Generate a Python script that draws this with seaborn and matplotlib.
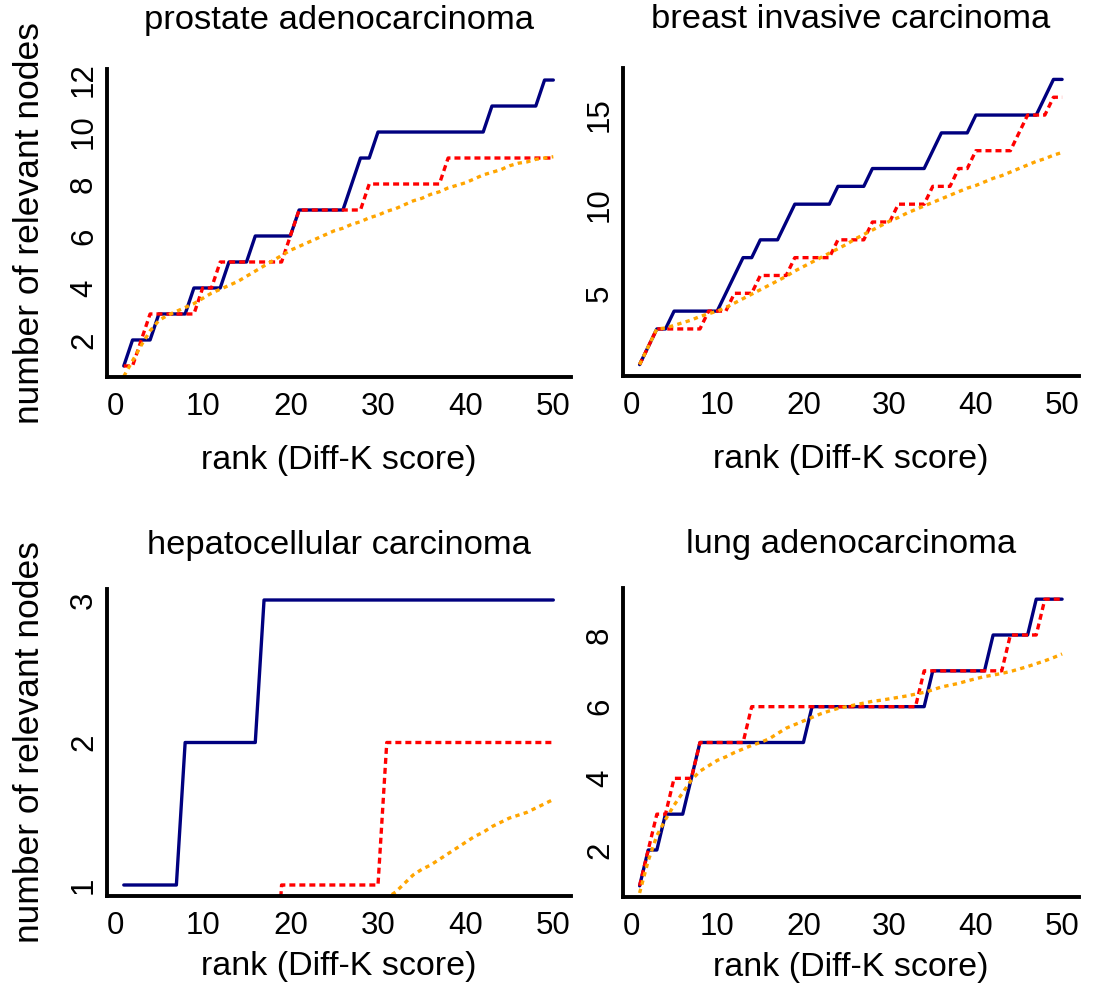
import matplotlib
matplotlib.use("Agg")
import matplotlib.pyplot as plt
import pandas as pd
import seaborn as sns

# ---------------- data ----------------
ranks = list(range(1, 51))

titles = ["prostate adenocarcinoma", "breast invasive carcinoma",
          "hepatocellular carcinoma", "lung adenocarcinoma"]

prostate_blue = [1, 2, 2, 2, 3, 3, 3, 3, 4, 4,
                 4, 4, 5, 5, 5, 6, 6, 6, 6, 6,
                 7, 7, 7, 7, 7, 7, 8, 9, 9, 10,
                 10, 10, 10, 10, 10, 10, 10, 10, 10, 10,
                 10, 10, 11, 11, 11, 11, 11, 11, 12, 12]
prostate_red = [1, 1, 2, 3, 3, 3, 3, 3, 3, 4,
                4, 5, 5, 5, 5, 5, 5, 5, 5, 6,
                7, 7, 7, 7, 7, 7, 7, 7, 8, 8,
                8, 8, 8, 8, 8, 8, 8, 9, 9, 9,
                9, 9, 9, 9, 9, 9, 9, 9, 9, 9]
prostate_orange = [0.6, 1.2, 1.8, 2.35, 2.75, 2.95, 3.1, 3.25, 3.4, 3.6,
                   3.8, 3.95, 4.1, 4.25, 4.45, 4.65, 4.85, 5.05, 5.25, 5.45,
                   5.6, 5.75, 5.9, 6.05, 6.2, 6.3, 6.45, 6.55, 6.7, 6.8,
                   6.95, 7.05, 7.2, 7.35, 7.45, 7.6, 7.7, 7.85, 7.95, 8.05,
                   8.2, 8.35, 8.45, 8.55, 8.7, 8.8, 8.85, 8.95, 9.0, 9.05]

breast_blue = [1, 2, 3, 3, 4, 4, 4, 4, 4, 4,
               5, 6, 7, 7, 8, 8, 8, 9, 10, 10,
               10, 10, 10, 11, 11, 11, 11, 12, 12, 12,
               12, 12, 12, 12, 13, 14, 14, 14, 14, 15,
               15, 15, 15, 15, 15, 15, 15, 16, 17, 17]
breast_red = [1, 2, 3, 3, 3, 3, 3, 3, 4, 4,
              4, 5, 5, 5, 6, 6, 6, 6, 7, 7,
              7, 7, 7, 8, 8, 8, 8, 9, 9, 9,
              10, 10, 10, 10, 11, 11, 11, 12, 12, 13,
              13, 13, 13, 13, 14, 15, 15, 15, 16, 16]
breast_orange = [1.0, 2.0, 3.0, 3.05, 3.2, 3.35, 3.5, 3.7, 3.85, 4.0,
                 4.2, 4.45, 4.7, 4.95, 5.2, 5.45, 5.7, 5.95, 6.25, 6.5,
                 6.75, 7.0, 7.25, 7.5, 7.75, 8.05, 8.3, 8.55, 8.8, 9.05,
                 9.25, 9.5, 9.7, 9.9, 10.1, 10.3, 10.5, 10.7, 10.9, 11.05,
                 11.25, 11.45, 11.6, 11.8, 12.0, 12.2, 12.4, 12.55, 12.75, 12.9]

hcc_blue = [1, 1, 1, 1, 1, 1, 1, 2, 2, 2,
            2, 2, 2, 2, 2, 2, 3, 3, 3, 3,
            3, 3, 3, 3, 3, 3, 3, 3, 3, 3,
            3, 3, 3, 3, 3, 3, 3, 3, 3, 3,
            3, 3, 3, 3, 3, 3, 3, 3, 3, 3]
hcc_red = [0, 0, 0, 0, 0, 0, 0, 0, 0, 0,
           0, 0, 0, 0, 0, 0, 0, 0, 1, 1,
           1, 1, 1, 1, 1, 1, 1, 1, 1, 1,
           2, 2, 2, 2, 2, 2, 2, 2, 2, 2,
           2, 2, 2, 2, 2, 2, 2, 2, 2, 2]
hcc_orange_ranks = [30, 31, 32, 33, 34, 35, 36, 37, 38, 39, 40,
                    41, 42, 43, 44, 45, 46, 47, 48, 49, 50]
hcc_orange = [0.86, 0.91, 0.95, 1.01, 1.07, 1.11, 1.14, 1.18, 1.22, 1.26, 1.3,
              1.34, 1.37, 1.41, 1.44, 1.47, 1.49, 1.51, 1.54, 1.57, 1.6]

lung_blue = [1, 2, 2, 3, 3, 3, 4, 5, 5, 5,
             5, 5, 5, 5, 5, 5, 5, 5, 5, 5,
             6, 6, 6, 6, 6, 6, 6, 6, 6, 6,
             6, 6, 6, 6, 7, 7, 7, 7, 7, 7,
             7, 8, 8, 8, 8, 8, 9, 9, 9, 9]
lung_red = [1, 2, 3, 3, 4, 4, 4, 5, 5, 5,
            5, 5, 5, 6, 6, 6, 6, 6, 6, 6,
            6, 6, 6, 6, 6, 6, 6, 6, 6, 6,
            6, 6, 6, 7, 7, 7, 7, 7, 7, 7,
            7, 7, 7, 8, 8, 8, 8, 9, 9, 9]
lung_orange = [0.8, 1.7, 2.4, 2.85, 3.25, 3.6, 3.95, 4.2, 4.35, 4.5,
               4.6, 4.72, 4.82, 4.92, 5.0, 5.1, 5.25, 5.4, 5.5, 5.6,
               5.7, 5.8, 5.88, 5.95, 6.0, 6.05, 6.1, 6.15, 6.18, 6.22,
               6.26, 6.3, 6.35, 6.4, 6.47, 6.55, 6.6, 6.65, 6.72, 6.78,
               6.84, 6.88, 6.93, 6.98, 7.05, 7.12, 7.2, 7.28, 7.37, 7.47]

x_ticks = [0, 10, 20, 30, 40, 50]
y_ticks = [[2, 4, 6, 8, 10, 12], [5, 10, 15], [1, 1.5, 2, 2.5, 3], [2, 4, 6, 8]]
y_ticklabels = [["2", "4", "6", "8", "10", "12"], ["5", "10", "15"],
                ["1", "", "2", "", "3"], ["2", "4", "6", "8"]]

panels = [
    (ranks, prostate_blue, ranks, prostate_red, ranks, prostate_orange),
    (ranks, breast_blue, ranks, breast_red, ranks, breast_orange),
    (ranks, hcc_blue, ranks, hcc_red, hcc_orange_ranks, hcc_orange),
    (ranks, lung_blue, ranks, lung_red, ranks, lung_orange),
]

# ---------------- style ----------------
sns.set_style("white")
plt.rcParams["font.family"] = ["Liberation Sans", "DejaVu Sans"]
plt.rcParams["text.color"] = "black"
plt.rcParams["axes.labelcolor"] = "black"

fig = plt.figure(figsize=(10.95, 9.96), dpi=100)
W, H = 1095.0, 996.0
# axes boxes in pixels: left, top, right, bottom
boxes = [(106.6, 68.6, 570.5, 377.4),
         (622.7, 68.0, 1079.0, 376.0),
         (106.6, 588.6, 570.5, 896.4),
         (622.7, 587.7, 1079.0, 897.3)]

BLUE, RED, ORANGE = "#00007F", "#FF0000", "#FFA500"
LW = 2.4

for i, (box, data) in enumerate(zip(boxes, panels)):
    l, t, r, b = box
    ax = fig.add_axes([l / W, 1 - b / H, (r - l) / W, (b - t) / H])
    xb, yb, xr, yr, xo, yo = data
    sns.lineplot(x=xb, y=yb, ax=ax, color=BLUE, lw=LW, linestyle="-")
    sns.lineplot(x=xr, y=yr, ax=ax, color=RED, lw=LW, linestyle=(0, (1.8, 1.2)))
    sns.lineplot(x=xo, y=yo, ax=ax, color=ORANGE, lw=LW, linestyle=(0, (1.3, 1.3)))

    lo, hi = min(yb), max(yb)
    ext = 0.04 * (hi - lo)
    ax.set_ylim(lo - ext, hi + ext)
    ax.set_xlim(1 - 0.04 * 49, 50 + 0.04 * 49)

    ax.set_xticks(x_ticks)
    ax.set_xticklabels([str(v) for v in x_ticks])
    ax.set_yticks(y_ticks[i])
    ax.set_yticklabels(y_ticklabels[i])

    for s in ["top", "right"]:
        ax.spines[s].set_visible(False)
    for s in ["left", "bottom"]:
        ax.spines[s].set_linewidth(2.8)
        ax.spines[s].set_color("black")
        ax.spines[s].set_capstyle("projecting")

    ax.tick_params(axis="both", direction="out", length=3.5, width=2.6,
                   color="black", labelsize=22.5, labelcolor="black")
    ax.tick_params(axis="x", pad=7)
    ax.tick_params(axis="y", pad=2)
    for lbl in ax.get_yticklabels():
        lbl.set_rotation(90)
        lbl.set_va("center")

    # title
    title_y = 1 + (48.6 if i < 2 else 43.0) / (b - t)
    ttl = ax.set_title(titles[i], fontsize=24.8, pad=0, y=title_y, color="black")
    ttl.set_va("center")

    # x label
    ax.set_xlabel("rank (Diff-K score)", fontsize=24.5, color="black")
    xl_off = 83.0 if i < 2 else 70.0
    ax.xaxis.set_label_coords(0.5, -xl_off / (b - t))
    ax.xaxis.label.set_va("center")

    if i % 2 == 0:
        ax.set_ylabel("number of relevant nodes", fontsize=25.5, color="black")
        ax.yaxis.set_label_coords(-(l - 30.0) / (r - l), 0.5)
        ax.yaxis.label.set_va("center")
    else:
        ax.set_ylabel("")

fig.savefig("out.png", dpi=100)
